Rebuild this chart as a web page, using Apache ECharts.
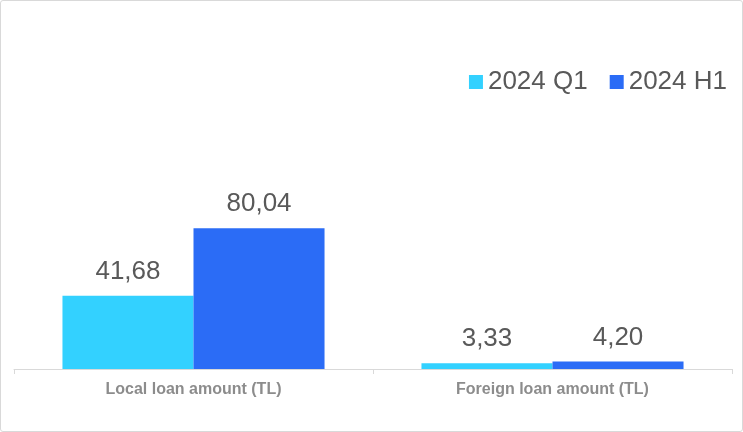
<!DOCTYPE html>
<html>
<head>
<meta charset="utf-8">
<script src="https://cdn.jsdelivr.net/npm/echarts@6/dist/echarts.min.js"></script>
<style>
  html, body { margin: 0; padding: 0; background: #fff; }
  #chart { width: 741px; height: 430px; border: 1px solid #d9d9d9; border-radius: 3px; }
</style>
</head>
<body>
<div id="chart"></div>
<script>
var categories = ['Local loan amount (TL)', 'Foreign loan amount (TL)'];
var q1Values = [41.68, 3.33];
var h1Values = [80.04, 4.20];
var seriesNames = ['2024 Q1', '2024 H1'];

var chart = echarts.init(document.getElementById('chart'));

function fmt(p) {
    return p.value.toFixed(2).replace('.', ',');
}

var labelStyle = {
    show: true,
    position: 'top',
    distance: 11,
    formatter: fmt,
    color: '#595959',
    fontSize: 26,
    fontFamily: 'Liberation Sans'
};

var option = {
    animation: false,
    legend: {
        data: seriesNames,
        top: 63,
        right: 10,
        itemWidth: 14,
        itemHeight: 14,
        itemGap: 22,
        icon: 'rect',
        textStyle: { color: '#595959', fontSize: 26, fontFamily: 'Liberation Sans' }
    },
    grid: { left: 13, right: 10, top: 16, bottom: 62 },
    xAxis: {
        type: 'category',
        data: categories,
        axisLine: { lineStyle: { color: '#d9d9d9', width: 1 } },
        axisTick: { show: true, length: 5, lineStyle: { color: '#d9d9d9' } },
        axisLabel: {
            color: '#8c8c8c',
            fontSize: 16,
            fontWeight: 'bold',
            fontFamily: 'Liberation Sans',
            margin: 13
        }
    },
    yAxis: {
        type: 'value',
        min: 0,
        max: 200,
        show: false
    },
    series: [
        {
            name: seriesNames[0],
            type: 'bar',
            data: q1Values,
            barGap: '0%',
            barCategoryGap: '27%',
            itemStyle: { color: '#33d1ff' },
            label: labelStyle
        },
        {
            name: seriesNames[1],
            type: 'bar',
            data: h1Values,
            itemStyle: { color: '#2b6cf6' },
            label: labelStyle
        }
    ]
};

chart.setOption(option);
</script>
</body>
</html>
